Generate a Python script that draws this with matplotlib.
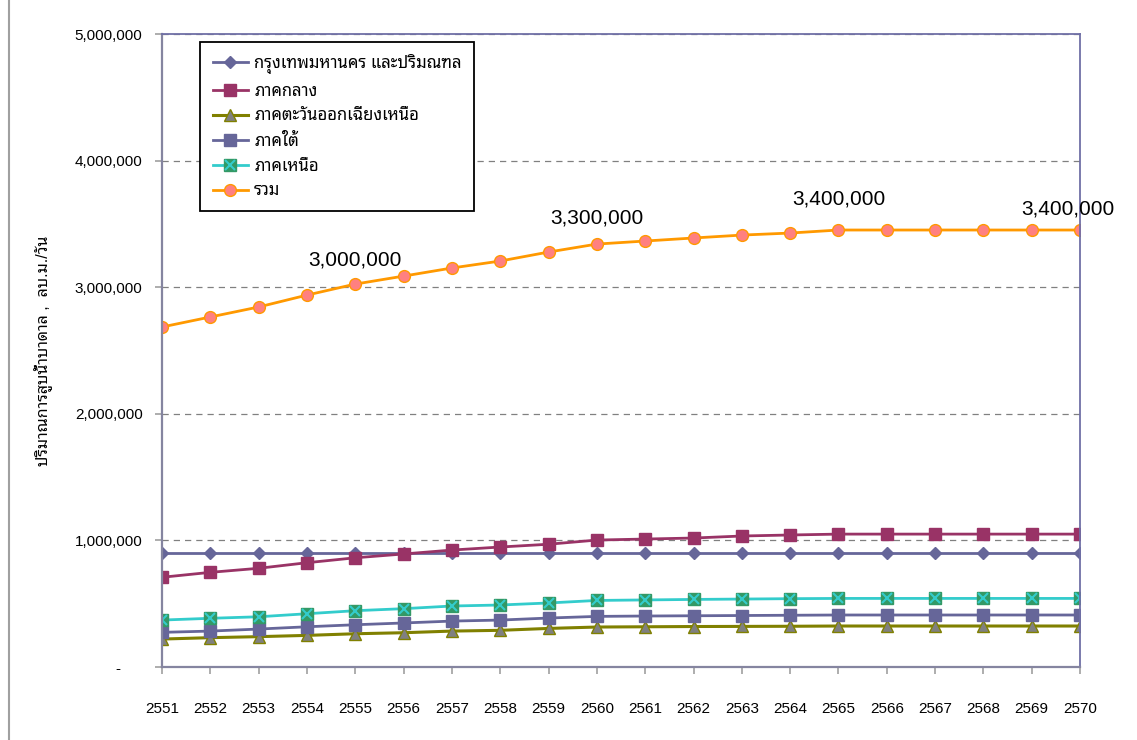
import matplotlib

matplotlib.use("Agg")
import matplotlib.pyplot as plt
from matplotlib.legend_handler import HandlerTuple
from matplotlib.lines import Line2D
from matplotlib.ticker import FuncFormatter

plt.rcParams["font.family"] = ["Liberation Sans", "Noto Sans Thai Looped", "DejaVu Sans"]

years = list(range(2551, 2571))
bangkok = [900000] * 20
central = [709000, 748000, 780000, 824000, 863000, 893000, 924000, 948000, 970000, 1003000,
           1011000, 1019000, 1035000, 1043000, 1050000, 1050000, 1050000, 1050000, 1050000, 1050000]
northeast = [221000, 232000, 240000, 250000, 263000, 271000, 284000, 290000, 305000, 316000,
             318000, 320000, 321000, 322000, 324000, 324000, 324000, 324000, 324000, 324000]
south = [274000, 284000, 300000, 318000, 334000, 348000, 363000, 371000, 387000, 400000,
         403000, 405000, 407000, 409000, 411000, 411000, 411000, 411000, 411000, 411000]
north = [371000, 385000, 397000, 421000, 445000, 461000, 482000, 490000, 506000, 526000,
         530000, 534000, 537000, 540000, 542000, 542000, 542000, 542000, 542000, 542000]
total = [2686000, 2765000, 2844000, 2938000, 3025000, 3088000, 3152000, 3207000, 3278000, 3341000,
         3365000, 3389000, 3412000, 3428000, 3452000, 3452000, 3452000, 3452000, 3452000, 3452000]

labels = ["กรุงเทพมหานคร และปริมณฑล", "ภาคกลาง", "ภาคตะวันออกเฉียงเหนือ", "ภาคใต้", "ภาคเหนือ", "รวม"]
note_x = [2555, 2560, 2565, 2570]
note_y = [3215000, 3547000, 3697000, 3618000]
note_text = ["3,000,000", "3,300,000", "3,400,000", "3,400,000"]

fig = plt.figure(figsize=(11.37, 7.40), dpi=100)
ax = fig.add_axes([0.1425, 0.0986, 0.8074, 0.8554])
# outer chart border (only the left edge is visible in the original)
fig.add_artist(Line2D([9 / 1137, 9 / 1137], [0, 1], transform=fig.transFigure,
                      color="#a0a0a0", lw=1.5))

h1, = ax.plot(years, bangkok, color="#666699", lw=2, marker="D", ms=6.5,
              mfc="#666699", mec="#666699")
h2, = ax.plot(years, central, color="#993366", lw=2, marker="s", ms=8,
              mfc="#993366", mec="#993366")
h3, = ax.plot(years, northeast, color="#808000", lw=2.2, marker="^", ms=8,
              mfc="#808080", mec="#808000")
h4, = ax.plot(years, south, color="#666699", lw=2, marker="s", ms=8,
              mfc="#666699", mec="#666699")
h5, = ax.plot(years, north, color="#33CCCC", lw=2, marker="s", ms=8,
              mfc="#339966", mec="#339966")
h5x, = ax.plot(years, north, ls="none", marker="x", ms=7, mew=1.5, color="#33CCCC")
h6, = ax.plot(years, total, color="#FF9900", lw=2, marker="o", ms=8.5,
              mfc="#FF8080", mec="#FF9900")

for i, (x, y, t) in enumerate(zip(note_x, note_y, note_text)):
    dx = -9 if i == len(note_x) - 1 else 0
    ax.annotate(t, (x, y), xytext=(dx, 0), textcoords="offset points",
                ha="center", va="center", fontsize=15, annotation_clip=False)

ax.set_xlim(2551, 2570)
ax.set_ylim(0, 5000000)
ax.set_xticks(years)
ax.set_yticks(range(0, 5000001, 1000000))
ax.yaxis.set_major_formatter(FuncFormatter(lambda v, p: "-     " if v == 0 else f"{int(v):,}"))
ax.tick_params(axis="x", labelsize=11, length=5, width=1.2, color="#a0a0a0", pad=20)
ax.tick_params(axis="y", labelsize=11, length=5, width=1.2, color="#a0a0a0", pad=9)
ax.grid(axis="y", ls=(0, (5, 4)), color="#808080", lw=0.9)
ax.set_axisbelow(True)
for s in ["left", "bottom"]:
    ax.spines[s].set_color("#8585a0")
    ax.spines[s].set_linewidth(1.6)
for s in ["top", "right"]:
    ax.spines[s].set_color("#6f6fa6")
    ax.spines[s].set_linewidth(1.3)
ax.set_ylabel("ปริมาณการสูบน้ำบาดาล ,  ลบ.ม./วัน", fontsize=11.5)
ax.yaxis.set_label_coords(-0.119, 0.5)

leg = ax.legend([h1, h2, h3, h4, (h5, h5x), h6], labels,
                handler_map={tuple: HandlerTuple(ndivide=1, pad=0)},
                loc="upper left", bbox_to_anchor=(0.0414, 0.988), fontsize=12,
                frameon=True, fancybox=False, edgecolor="black", framealpha=1,
                handlelength=2.1, handletextpad=0.4, labelspacing=0.58,
                borderpad=0.75, borderaxespad=0)
leg.get_frame().set_linewidth(1.3)

fig.savefig("out.png", dpi=100)
